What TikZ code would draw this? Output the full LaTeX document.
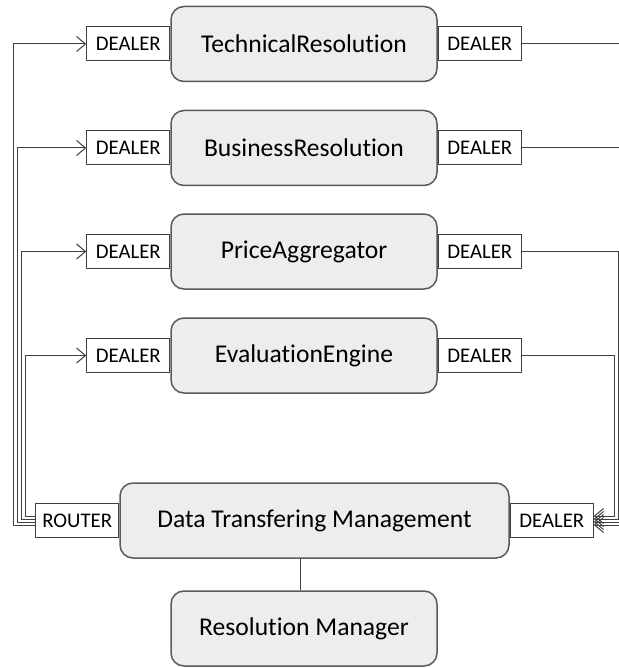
\documentclass[tikz,border=0pt]{standalone}
\usepackage{fontspec}
\setmainfont[Ligatures=NoCommon]{Carlito}
\usetikzlibrary{positioning,arrows.meta}

\definecolor{boxfill}{HTML}{EDEDED}
\definecolor{boxline}{HTML}{5A5A5A}
\definecolor{wirecol}{HTML}{404040}

\tikzset{
  service/.style={draw=boxline,fill=boxfill,line width=0.75pt,rounded corners=6.5pt,
    minimum width=133pt,minimum height=37.5pt,font=\fontsize{12.8}{15}\selectfont},
  port/.style={draw=wirecol,fill=white,line width=0.5pt,minimum width=41.5pt,
    minimum height=17pt,inner sep=0pt,font=\fontsize{10.4}{12}\selectfont},
  wire/.style={draw=wirecol,line width=0.5pt},
}

\begin{document}
\begin{tikzpicture}[x=0.5pt,y=-0.5pt,>={Straight Barb[length=4.5pt,width=7.5pt]}]
        \useasboundingbox (0,0) rectangle (619,668);
        \clip (0,0) rectangle (619,668);

        % the four services, each with a dealer on both sides
        \foreach \key/\lbl/\y in {
            tech/TechnicalResolution/44,
            bus/BusinessResolution/148,
            price/PriceAggregator/251.5,
            eval/EvaluationEngine/355.5}
        {
            \node[service] (\key) at (304,\y) {\lbl};
            \node[port,left=0pt of \key] (\key-in) {DEALER};
            \node[port,right=0pt of \key] (\key-out) {DEALER};
        }

        % the data transfer layer and the manager below it
        \node[service,minimum width=194.5pt] (dtm) at (314.5,520.5) {Data Transfering Management};
        \node[port,left=0pt of dtm] (dtm-in) {ROUTER};
        \node[port,right=0pt of dtm] (dtm-out) {DEALER};
        \node[service] (rm) at (304,628.5) {Resolution Manager};

        \draw[wire] ([xshift=-1.75pt]rm.north) -- ([xshift=-1.75pt]rm.north |- dtm.south);

        % router out to the dealers on the left
        \foreach \key/\xx/\dy in {tech/13.5/-2.25pt, bus/17.5/-0.75pt, price/21.5/0.75pt, eval/25.5/2.25pt}
            \draw[wire,->] ([yshift=\dy]dtm-in.west) -| (\xx,0 |- \key-in.west) -- (\key-in.west);

        % dealers on the right back into the data transfer layer
        \foreach \key/\xx/\dy in {tech/626/-2.25pt, bus/622/-0.75pt, price/618/0.75pt, eval/614/2.25pt}
        {
            \coordinate (\key-back) at ([yshift=\dy]dtm-out.east);
            \draw[wire,->] (\key-out.east) -| (\xx,0 |- \key-back) -- (\key-back);
        }

\end{tikzpicture}
\end{document}
